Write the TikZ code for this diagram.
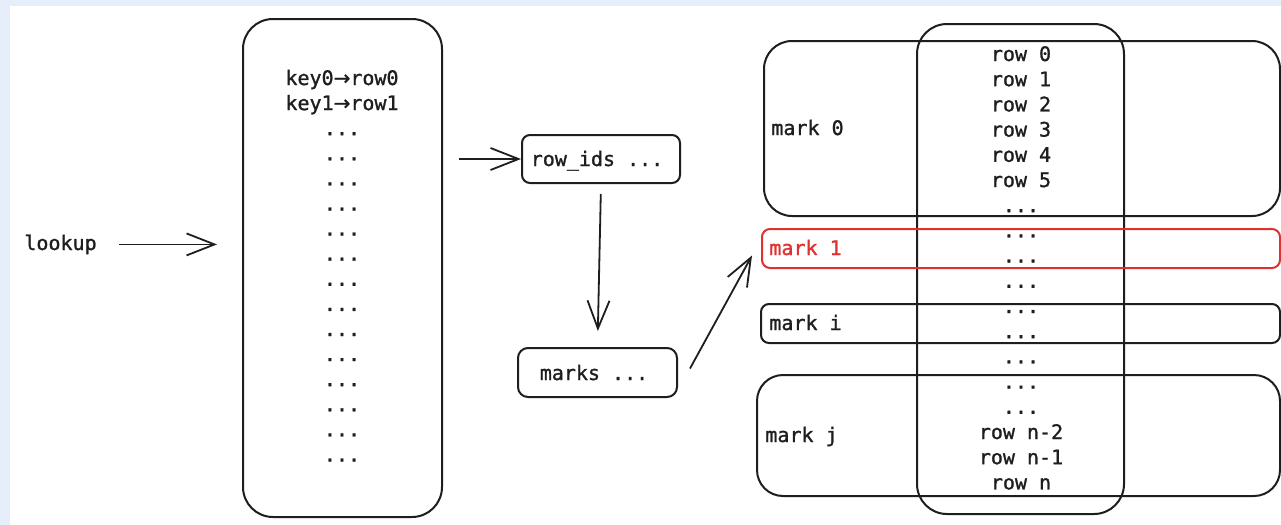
\documentclass[tikz,border=0pt]{standalone}
\usepackage{fontspec}
\newfontfamily\labelfont{DejaVu Sans Mono}[RawFeature={embolden=1.2}]
\newfontfamily\arrowfont{DejaVu Sans}[RawFeature={embolden=1.2}]
\usetikzlibrary{arrows.meta,fit,calc}
\definecolor{ink}{HTML}{1E1E1E}
\definecolor{alert}{HTML}{E03131}
\definecolor{frame}{HTML}{E6EDFB}
\newcommand\gapdots{...}
\newcommand\mapsarrow{{\arrowfont →}}
\begin{document}
\begin{tikzpicture}[x=0.5pt,y=-0.5pt,
  box/.style={draw=ink, line width=1pt, inner sep=0pt, rounded corners=#1},
  box/.default=4pt,
  txt/.style={font=\labelfont\fontsize{10}{12}\selectfont, text=ink, inner sep=0pt},
  arr/.style={draw=ink, line width=0.9pt, -{Straight Barb[length=14pt,width=11pt]}}]

% page frame
\fill[frame] (0,0) rectangle (1281,525);
\fill[white] (10,6) rectangle (1281,525);
\useasboundingbox (0,0) rectangle (1281,525);

% containers
\node[box=15pt, fit={(243,19) (442,517)}] (keys) {};
\node[box=15pt, fit={(917,24) (1124,514)}] (rows) {};
\node[box=14pt, fit={(764,41) (1280,216)}] (mark0) {};
\node[box=4pt, draw=alert, fit={(762,229) (1280,268)}] (mark1) {};
\node[box=4pt, fit={(761,304) (1280,343)}] (marki) {};
\node[box=13pt, fit={(757,375) (1280,496)}] (markj) {};
\node[box=4pt, fit={(522,135) (680,183)}] (rowids) {};
\node[box=5pt, fit={(518,348) (677,397)}] (marks) {};

% labels
\node[txt, anchor=base west] (lookup) at (24,250) {lookup};
\node[txt, anchor=base] (rowidsT) at (597,166) {row\_ids ...};
\node[txt, anchor=base] (marksT) at (594,380) {marks ...};
\node[txt, anchor=base west] (m0) at (771,135) {mark 0};
\node[txt, anchor=base west, text=alert] (m1) at (769,255) {mark 1};
\node[txt, anchor=base west] (mi) at (769,330) {mark i};
\node[txt, anchor=base west] (mj) at (765,442) {mark j};

% key -> row mapping
\foreach \t [count=\i from 0] in {key0\mapsarrow{}row0,key1\mapsarrow{}row1,\gapdots,\gapdots,\gapdots,\gapdots,\gapdots,\gapdots,\gapdots,\gapdots,\gapdots,\gapdots,\gapdots,\gapdots,\gapdots,\gapdots}
  \node[txt, anchor=base] (k\i) at (342,{85+25.1*\i}) {\t};

% row column
\foreach \t [count=\i from 0] in {row 0,row 1,row 2,row 3,row 4,row 5,\gapdots,\gapdots,\gapdots,\gapdots,\gapdots,\gapdots,\gapdots,\gapdots,\gapdots,row n-2,row n-1,row n}
  \node[txt, anchor=base] (r\i) at (1021,{61+25.2*\i}) {\t};

% connectors
\draw[arr, shorten >=12.5pt] ($(lookup.east)+(22,0)$) -- (lookup.east -| keys.west);
\draw[arr] ($(keys.east |- rowids.west)+(16,0)$) -- (rowids.west);
\draw[arr, shorten <=5pt, shorten >=8pt] (rowids.south) -- (marks.north);
\draw[arr] ($(marks.east)+(12,-4)$) -- ($(mark1.west)+(-9,7)$);
\end{tikzpicture}
\end{document}
